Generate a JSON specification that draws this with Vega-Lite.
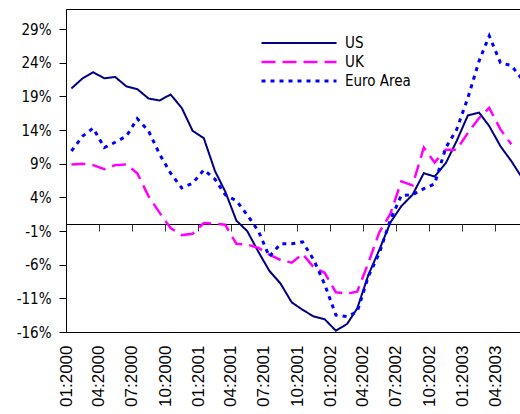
{
  "$schema": "https://vega.github.io/schema/vega-lite/v6.json",
  "width": 454,
  "height": 323,
  "autosize": {"type": "none"},
  "padding": {"left": 66, "top": 9, "right": 0, "bottom": 82},
  "background": "white",
  "config": {"view": {"stroke": "#000", "strokeWidth": 1}, "axis": {"grid": false, "labelOverlap": false}},
  "data": {"values": [
    {"month": "2000-01-16", "US": 20.2, "UK": 8.9, "Euro Area": 10.9},
    {"month": "2000-02-16", "US": 21.7, "UK": 9.0, "Euro Area": 13.1},
    {"month": "2000-03-16", "US": 22.6, "UK": 8.8, "Euro Area": 14.3},
    {"month": "2000-04-16", "US": 21.7, "UK": 8.2, "Euro Area": 11.4},
    {"month": "2000-05-16", "US": 21.9, "UK": 8.8, "Euro Area": 12.2},
    {"month": "2000-06-16", "US": 20.5, "UK": 8.9, "Euro Area": 13.1},
    {"month": "2000-07-16", "US": 20.1, "UK": 7.6, "Euro Area": 15.7},
    {"month": "2000-08-16", "US": 18.7, "UK": 4.2, "Euro Area": 13.9},
    {"month": "2000-09-16", "US": 18.4, "UK": 1.7, "Euro Area": 10.4},
    {"month": "2000-10-16", "US": 19.3, "UK": -0.55, "Euro Area": 7.6},
    {"month": "2000-11-16", "US": 17.3, "UK": -1.6, "Euro Area": 5.4},
    {"month": "2000-12-16", "US": 13.9, "UK": -1.4, "Euro Area": 6.1},
    {"month": "2001-01-16", "US": 12.8, "UK": 0.2, "Euro Area": 8.1},
    {"month": "2001-02-16", "US": 7.9, "UK": 0.1, "Euro Area": 6.7},
    {"month": "2001-03-16", "US": 4.9, "UK": -0.05, "Euro Area": 4.4},
    {"month": "2001-04-16", "US": 0.55, "UK": -2.9, "Euro Area": 3.5},
    {"month": "2001-05-16", "US": -1.0, "UK": -3.0, "Euro Area": 1.4},
    {"month": "2001-06-16", "US": -4.1, "UK": -3.5, "Euro Area": -1.0},
    {"month": "2001-07-16", "US": -6.9, "UK": -4.5, "Euro Area": -4.8},
    {"month": "2001-08-16", "US": -8.8, "UK": -5.3, "Euro Area": -2.9},
    {"month": "2001-09-16", "US": -11.6, "UK": -5.7, "Euro Area": -2.9},
    {"month": "2001-10-16", "US": -12.7, "UK": -4.4, "Euro Area": -2.6},
    {"month": "2001-11-16", "US": -13.7, "UK": -6.4, "Euro Area": -5.3},
    {"month": "2001-12-16", "US": -14.1, "UK": -7.2, "Euro Area": -8.9},
    {"month": "2002-01-16", "US": -15.8, "UK": -10.1, "Euro Area": -13.5},
    {"month": "2002-02-16", "US": -14.8, "UK": -10.3, "Euro Area": -13.7},
    {"month": "2002-03-16", "US": -12.5, "UK": -10.0, "Euro Area": -13.0},
    {"month": "2002-04-16", "US": -7.5, "UK": -5.7, "Euro Area": -7.7},
    {"month": "2002-05-16", "US": -3.8, "UK": -1.2, "Euro Area": -4.3},
    {"month": "2002-06-16", "US": 0.3, "UK": 1.6, "Euro Area": 0.7},
    {"month": "2002-07-16", "US": 2.7, "UK": 6.4, "Euro Area": 4.3},
    {"month": "2002-08-16", "US": 4.4, "UK": 5.8, "Euro Area": 4.4},
    {"month": "2002-09-16", "US": 7.6, "UK": 11.4, "Euro Area": 5.3},
    {"month": "2002-10-16", "US": 7.1, "UK": 9.2, "Euro Area": 6.0},
    {"month": "2002-11-16", "US": 9.1, "UK": 11.1, "Euro Area": 11.4},
    {"month": "2002-12-16", "US": 12.4, "UK": 11.1, "Euro Area": 14.1},
    {"month": "2003-01-16", "US": 16.2, "UK": 13.6, "Euro Area": 18.8},
    {"month": "2003-02-16", "US": 16.6, "UK": 15.8, "Euro Area": 24.3},
    {"month": "2003-03-16", "US": 14.6, "UK": 17.3, "Euro Area": 28.0},
    {"month": "2003-04-16", "US": 11.6, "UK": 14.1, "Euro Area": 24.0},
    {"month": "2003-05-16", "US": 9.4, "UK": 11.9, "Euro Area": 23.6},
    {"month": "2003-06-16", "US": 6.8, "UK": null, "Euro Area": 21.5}
  ]},
  "transform": [{"fold": ["US", "UK", "Euro Area"]}, {"filter": "datum.value != null"}],
  "layer": [
    {
      "mark": {"type": "line", "clip": true},
      "encoding": {
        "x": {
          "field": "month", "type": "temporal",
          "scale": {"type": "utc", "domain": [{"year": 2000, "month": 1, "date": 1, "utc": true}, {"year": 2003, "month": 6, "date": 9, "utc": true}]},
          "axis": {"orient": "bottom", "title": null, "domain": false, "ticks": false, "tickSize": 0, "grid": false,
                   "labelAngle": -90, "labelAlign": "right", "labelBaseline": "middle", "labelPadding": 13,
                   "format": "%m:%Y", "tickCount": {"interval": "month", "step": 3},
                   "labelFont": "Liberation Sans", "labelFontSize": 17, "labelColor": "#000",
                   "labelOverlap": false, "labelFlush": false}
        },
        "y": {
          "field": "value", "type": "quantitative",
          "scale": {"domain": [-16, 32], "nice": false, "zero": false},
          "axis": {"title": null, "values": [-16, -11, -6, -1, 4, 9, 14, 19, 24, 29], "tickCount": 10,
                   "labelExpr": "datum.value + '%'", "tickSize": 7, "tickColor": "#000", "domainColor": "#000",
                   "labelFont": "DejaVu Sans Condensed", "labelFontSize": 15, "labelColor": "#000",
                   "labelPadding": 8, "grid": false, "labelOverlap": false, "labelFlush": false}
        },
        "color": {
          "field": "key", "type": "nominal",
          "scale": {"domain": ["US", "UK", "Euro Area"], "range": ["#000080", "#FF00FF", "#0000FF"]},
          "legend": {"orient": "none", "legendX": 194, "legendY": 25, "title": null, "symbolType": "stroke",
                     "symbolSize": 5625, "symbolStrokeWidth": 3, "clipHeight": 18, "rowPadding": 1,
                     "labelFont": "DejaVu Sans Condensed", "labelFontSize": 15, "labelColor": "#000",
                     "labelOffset": 7, "padding": 0}
        },
        "strokeDash": {
          "field": "key", "type": "nominal",
          "scale": {"domain": ["US", "UK", "Euro Area"], "range": [[1, 0], [14, 7], [4, 5]]},
          "legend": {"orient": "none", "legendX": 194, "legendY": 25, "title": null, "symbolType": "stroke",
                     "symbolSize": 5625, "symbolStrokeWidth": 3, "clipHeight": 18, "rowPadding": 1,
                     "labelFont": "DejaVu Sans Condensed", "labelFontSize": 15, "labelColor": "#000",
                     "labelOffset": 7, "padding": 0}
        },
        "strokeWidth": {
          "field": "key", "type": "nominal",
          "scale": {"domain": ["US", "UK", "Euro Area"], "range": [2, 3, 3]},
          "legend": null
        }
      }
    },
    {
      "mark": {"type": "point", "opacity": 0},
      "encoding": {
        "x": {
          "field": "month", "type": "temporal",
          "axis": {"orient": "bottom", "title": null, "offset": -108, "labels": false, "ticks": true, "tickSize": 7,
                   "tickColor": "#333", "domain": true, "domainColor": "#000", "grid": false,
                   "tickCount": {"interval": "month", "step": 3}}
        },
        "y": {
          "field": "value", "type": "quantitative",
          "axis": {"title": null, "values": [-16, -11, -6, -1, 4, 9, 14, 19, 24, 29], "tickCount": 10,
                   "labelExpr": "datum.value + '%'", "tickSize": 7, "tickColor": "#000", "domainColor": "#000",
                   "labelFont": "DejaVu Sans Condensed", "labelFontSize": 15, "labelColor": "#000",
                   "labelPadding": 8, "grid": false, "labelOverlap": false, "labelFlush": false}
        }
      }
    }
  ],
  "resolve": {"axis": {"x": "independent"}}
}
